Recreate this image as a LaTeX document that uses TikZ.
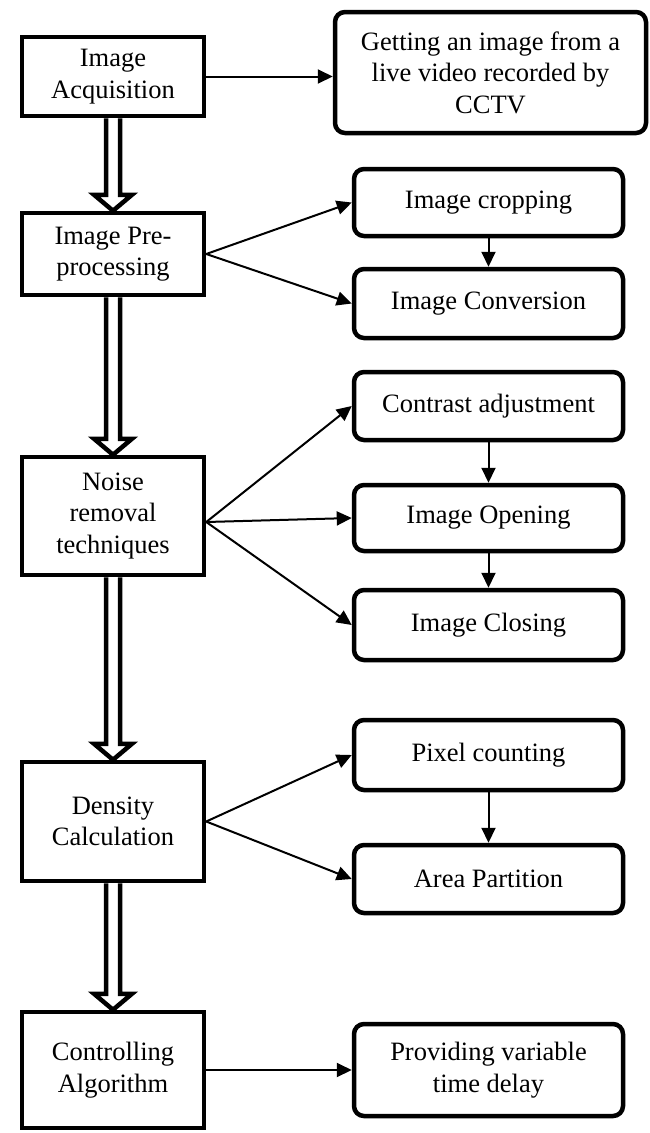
\documentclass[tikz,border=0pt]{standalone}
\usepackage{fontspec}
\setmainfont{Liberation Serif}
\usetikzlibrary{arrows.meta,calc}

\begin{document}
\begin{tikzpicture}[
      x=1pt, y=-1pt,
      every node/.style={font=\fontsize{26.5}{31.5}\selectfont, align=center, inner sep=0pt},
      stage/.style={draw, line width=4.5pt, minimum width=182pt},
      task/.style={draw, line width=4.5pt, rounded corners=10pt, minimum width=269pt},
      link/.style={-{Triangle[length=15pt, width=14pt]}, line width=2pt},
      hollow/.style={line width=4.5pt, line join=miter},
    ]
    \useasboundingbox (0,0) rectangle (650,1133);

    % Main stages
    \node[stage, minimum height=79pt] (acq) at (113, 76.5) {Image\\Acquisition};
    \node[stage, minimum height=82pt] (pre) at (113, 254) {Image Pre-\\processing};
    \node[stage, minimum height=118pt] (noise) at (113, 516) {Noise\\removal\\techniques};
    \node[stage, minimum height=119pt] (dens) at (113, 821.5) {Density\\Calculation};
    \node[stage, minimum height=116pt] (ctrl) at (113, 1070) {Controlling\\Algorithm};

    % Sub tasks
    \node[task, minimum width=311pt, minimum height=121pt] (cctv) at (490.5, 72.5)
      {Getting an image from a\\live video recorded by\\CCTV};
    \node[task, minimum height=67pt] (crop) at (488.5, 202.5) {Image cropping};
    \node[task, minimum height=69pt] (conv) at (488.5, 303.5) {Image Conversion};
    \node[task, minimum height=68pt] (contr) at (488.5, 406) {Contrast adjustment};
    \node[task, minimum height=66pt] (open) at (488.5, 518) {Image Opening};
    \node[task, minimum height=70pt] (close) at (488.5, 625) {Image Closing};
    \node[task, minimum height=70pt] (pix) at (488.5, 755) {Pixel counting};
    \node[task, minimum height=68pt] (area) at (488.5, 879) {Area Partition};
    \node[task, minimum height=92pt] (delay) at (488.5, 1070) {Providing variable\\time delay};

    % Hollow arrows down the main column
    \foreach \u/\v in {acq/pre, pre/noise, noise/dens, dens/ctrl}
      \draw[hollow] ($(\u.south)+(-7,0)$) -- ($(\v.north)+(-7,-16)$) -- ++(-12,0)
        -- (\v.north) -- ++(19,-16) -- ++(-12,0) -- ($(\u.south)+(7,0)$);

    % Stage to task
    \draw[link] (acq.east) -- (acq.east -| cctv.west);
    \draw[link] (ctrl.east) -- (ctrl.east -| delay.west);
    \foreach \t in {crop, conv}
      \draw[link] (pre.east) -- (\t.west);
    \foreach \t in {contr, open, close}
      \draw[link] ([yshift=-6pt]noise.east) -- (\t.west);
    \foreach \t in {pix, area}
      \draw[link] (dens.east) -- (\t.west);

    % Task to task
    \foreach \u/\v in {crop/conv, contr/open, open/close, pix/area}
      \draw[link] (\u) -- (\v);
  \end{tikzpicture}
\end{document}
